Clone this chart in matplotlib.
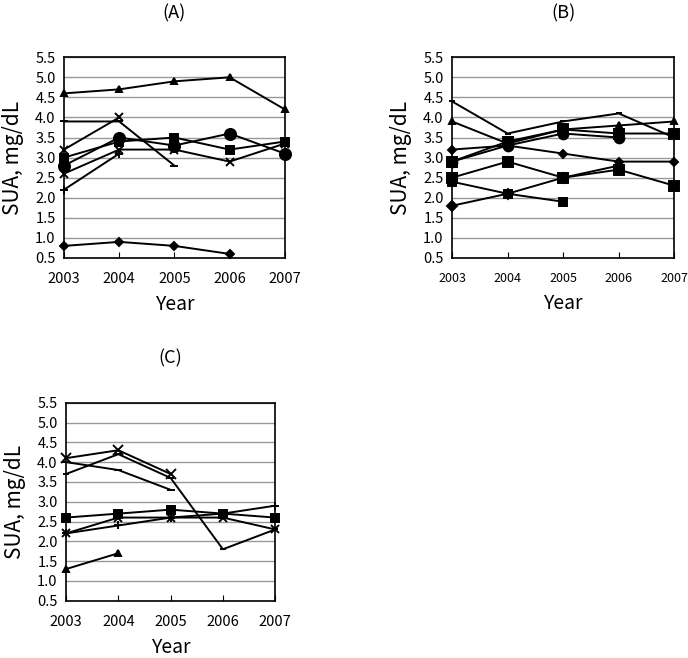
import matplotlib
matplotlib.use("Agg")
import matplotlib.pyplot as plt

plt.rcParams["font.family"] = ["Noto Sans CJK JP", "DejaVu Sans"]

years = [2003, 2004, 2005, 2006, 2007]
yticks = [0.5, 1.0, 1.5, 2.0, 2.5, 3.0, 3.5, 4.0, 4.5, 5.0, 5.5]

# panel A: values per year, None = missing
a_triangle = [4.6, 4.7, 4.9, 5.0, 4.2]
a_dash = [3.9, 3.9, 2.8, None, None]
a_star = [3.2, 4.0, None, None, None]
a_square = [3.0, 3.4, 3.5, 3.2, 3.4]
a_circle = [2.8, 3.5, 3.3, 3.6, 3.1]
a_cross = [2.6, 3.2, 3.2, 2.9, 3.35]
a_plus = [2.2, 3.1, None, None, None]
a_diamond = [0.8, 0.9, 0.8, 0.6, None]

# panel B
b_line = [4.4, 3.6, 3.9, 4.1, 3.5]
b_triangle = [3.9, 3.35, 3.7, 3.8, 3.9]
b_diamond = [3.2, 3.3, 3.1, 2.9, 2.9]
b_square1 = [2.9, 3.4, 3.7, 3.6, 3.6]
b_circle = [2.9, 3.3, 3.6, 3.5, None]
b_square2 = [2.5, 2.9, 2.5, 2.7, 2.3]
b_square3 = [2.4, 2.1, 1.9, None, None]
b_diamond2 = [1.8, 2.1, 2.5, 2.8, None]

# panel C
c_star = [4.1, 4.3, 3.7, None, None]
c_dash2 = [3.7, 4.2, 3.6, 1.8, 2.3]
c_dash = [4.0, 3.8, 3.3, None, None]
c_square = [2.6, 2.7, 2.8, 2.7, 2.6]
c_cross = [2.2, 2.6, 2.6, 2.6, 2.3]
c_plus = [2.2, 2.4, 2.6, 2.7, 2.9]
c_triangle = [1.3, 1.7, None, None, None]

panel_a = [("^", a_triangle, 5), ("_", a_dash, 6), ("x", a_star, 6),
           ("s", a_square, 6), ("o", a_circle, 8), ("x", a_cross, 6),
           ("+", a_plus, 6), ("D", a_diamond, 4)]
panel_b = [("_", b_line, 4), ("^", b_triangle, 5), ("D", b_diamond, 4),
           ("s", b_square1, 7), ("o", b_circle, 7), ("s", b_square2, 7),
           ("s", b_square3, 6), ("D", b_diamond2, 5)]
panel_c = [("x", c_star, 7), ("_", c_dash2, 5), ("_", c_dash, 6),
           ("s", c_square, 6), ("x", c_cross, 6), ("+", c_plus, 6),
           ("^", c_triangle, 4)]


def draw_panel(ax, series, title, tick_size):
    for marker, vals, ms in series:
        xs = [y for y, v in zip(years, vals) if v is not None]
        ys = [v for v in vals if v is not None]
        ax.plot(xs, ys, color="black", lw=1.4, marker=marker, ms=ms,
                mew=1.4, clip_on=False, zorder=3)
    ax.set_xlim(2003, 2007)
    ax.set_ylim(0.5, 5.5)
    ax.set_yticks(yticks)
    ax.set_yticklabels([f"{t:.1f}" for t in yticks], fontsize=10.5)
    ax.set_xticks(years)
    ax.set_xticklabels([str(y) for y in years], fontsize=tick_size)
    ax.tick_params(axis="x", direction="in", length=4, pad=10)
    ax.tick_params(axis="y", length=0, pad=6)
    ax.yaxis.grid(True, color="#999999", lw=1)
    ax.set_axisbelow(True)
    for s in ax.spines.values():
        s.set_linewidth(1.2)
    ax.set_xlabel("Year", fontsize=14, labelpad=6)
    ax.set_ylabel("SUA, mg/dL", fontsize=15, labelpad=8)
    ax.set_title(title, fontsize=13, pad=28)


fig = plt.figure(figsize=(6.88, 6.58), dpi=100)
ax_a = fig.add_axes([0.093, 0.608, 0.321, 0.305])
ax_b = fig.add_axes([0.657, 0.608, 0.323, 0.305])
ax_c = fig.add_axes([0.096, 0.087, 0.304, 0.301])

draw_panel(ax_a, panel_a, "(A)", 10.5)
draw_panel(ax_b, panel_b, "(B)", 9)
draw_panel(ax_c, panel_c, "(C)", 10.5)

fig.savefig("out.png", dpi=100)
